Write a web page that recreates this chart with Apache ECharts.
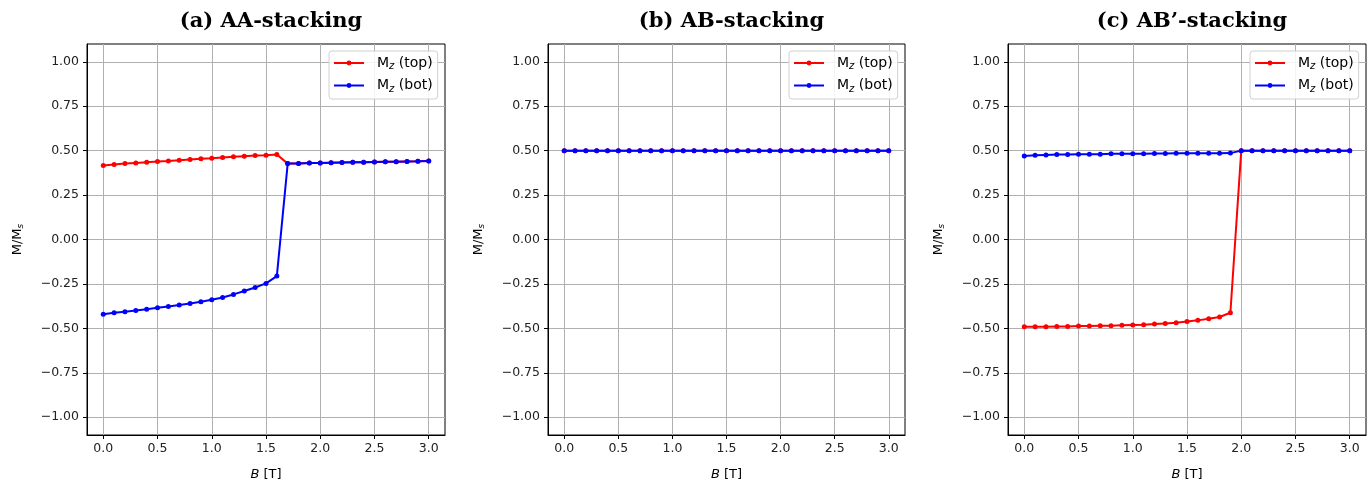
<!DOCTYPE html>
<html><head><meta charset="utf-8">
<script src="https://cdn.jsdelivr.net/npm/echarts@6/dist/echarts.min.js"></script>
<style>html,body{margin:0;padding:0;background:#fff}#c{width:1372px;height:483px}</style>
</head><body><div id="c"></div>
<script>
const B = [0.0,0.1,0.2,0.3,0.4,0.5,0.6,0.7,0.8,0.9,1.0,1.1,1.2,1.3,1.4,1.5,1.6,1.7,1.8,1.9,2.0,2.1,2.2,2.3,2.4,2.5,2.6,2.7,2.8,2.9,3.0];
const titles = ['(a) AA-stacking', '(b) AB-stacking', '(c) AB\u2019-stacking'];
const xTicks = [0.0,0.5,1.0,1.5,2.0,2.5,3.0];
const yTicks = [-1.00,-0.75,-0.50,-0.25,0.00,0.25,0.50,0.75,1.00];

const aTop = [0.416,0.422,0.427,0.431,0.435,0.439,0.442,0.446,0.450,0.454,0.457,0.461,0.465,0.469,0.472,0.474,0.478,
              0.427,0.428,0.430,0.431,0.432,0.433,0.434,0.435,0.436,0.437,0.438,0.439,0.440,0.442];
const aBot = [-0.420,-0.412,-0.407,-0.400,-0.392,-0.384,-0.377,-0.369,-0.360,-0.350,-0.339,-0.326,-0.309,-0.290,-0.270,-0.247,-0.206,
              0.427,0.428,0.430,0.431,0.432,0.433,0.434,0.435,0.436,0.437,0.438,0.439,0.440,0.442];
const bTop = [0.5,0.5,0.5,0.5,0.5,0.5,0.5,0.5,0.5,0.5,0.5,0.5,0.5,0.5,0.5,0.5,0.5,0.5,0.5,0.5,0.5,0.5,0.5,0.5,0.5,0.5,0.5,0.5,0.5,0.5,0.5];
const bBot = [0.5,0.5,0.5,0.5,0.5,0.5,0.5,0.5,0.5,0.5,0.5,0.5,0.5,0.5,0.5,0.5,0.5,0.5,0.5,0.5,0.5,0.5,0.5,0.5,0.5,0.5,0.5,0.5,0.5,0.5,0.5];
const cTop = [-0.491,-0.491,-0.491,-0.489,-0.489,-0.487,-0.487,-0.485,-0.485,-0.483,-0.481,-0.479,-0.476,-0.472,-0.468,-0.462,-0.455,-0.446,-0.436,-0.412,
              0.5,0.5,0.5,0.5,0.5,0.5,0.5,0.5,0.5,0.5,0.5];
const cBot = [0.470,0.474,0.476,0.478,0.478,0.479,0.480,0.480,0.482,0.482,0.482,0.483,0.484,0.484,0.485,0.485,0.485,0.485,0.485,0.486,
              0.5,0.5,0.5,0.5,0.5,0.5,0.5,0.5,0.5,0.5,0.5];

const panels = [[aTop,aBot],[bTop,bBot],[cTop,cBot]];
const grids = [{left:87,top:44,width:358,height:391},{left:548,top:44,width:357,height:391},{left:1008,top:44,width:358,height:391}];
const font = 'DejaVu Sans';
const fmtY = v => v.toFixed(2).replace('-', '\u2212');
const fmtX = v => v.toFixed(1).replace('-', '\u2212');

const option = {
  animation:false,
  backgroundColor:'#fff',
  title: titles.map((t,i)=>({text:t, left: grids[i].left + grids[i].width/2, top: 6, textAlign:'center',
    textStyle:{fontFamily:'DejaVu Serif', fontWeight:'bold', fontSize:21, color:'#000'}})),
  grid: grids.map(g=>Object.assign({show:true, borderColor:'#000', borderWidth:1, backgroundColor:'transparent', containLabel:false, outerBoundsMode:'none'}, g)),
  xAxis: grids.map((g,i)=>({type:'value', gridIndex:i, min:-0.15, max:3.15,
    name:'{i|B} [T]', nameLocation:'middle', nameGap:33,
    nameTextStyle:{fontFamily:font, fontSize:13, color:'#000', rich:{i:{fontFamily:font, fontSize:13, fontStyle:'italic', color:'#000'}}},
    axisLine:{show:true, onZero:false, lineStyle:{color:'#000', width:1}},
    axisTick:{show:true, length:4, inside:false, customValues:xTicks, lineStyle:{color:'#000'}},
    axisLabel:{customValues:xTicks, formatter:fmtX, fontFamily:font, fontSize:12.5, color:'#222', margin:7, showMinLabel:true, showMaxLabel:true},
    splitLine:{show:true, lineStyle:{color:'#b0b0b0', width:1}}
  })),
  yAxis: grids.map((g,i)=>({type:'value', gridIndex:i, min:-1.1, max:1.1,
    name:'M/M{s|s}', nameLocation:'middle', nameGap:62, nameRotate:90,
    nameTextStyle:{fontFamily:font, fontSize:13, color:'#000', rich:{s:{fontFamily:font, fontSize:9, fontStyle:'italic', color:'#000', verticalAlign:'bottom', padding:[6,0,0,0]}}},
    axisLine:{show:true, onZero:false, lineStyle:{color:'#000', width:1}},
    axisTick:{show:true, length:4, inside:false, customValues:yTicks, lineStyle:{color:'#000'}},
    axisLabel:{customValues:yTicks, formatter:fmtY, fontFamily:font, fontSize:12.5, color:'#222', margin:8},
    splitLine:{show:true, lineStyle:{color:'#b0b0b0', width:1}}
  })),
  legend: grids.map((g,i)=>({
    orient:'vertical', left: g.left + g.width - 116, top: 51, itemWidth:30, itemHeight:6, itemGap:7,
    padding:[5,5,5,4], backgroundColor:'rgba(255,255,255,0.85)', borderColor:'#d0d0d0', borderWidth:1, borderRadius:3,
    data:['top'+i,'bot'+i],
    formatter: n => n.startsWith('top') ? 'M{z|z} (top)' : 'M{z|z} (bot)',
    textStyle:{fontFamily:font, fontSize:14, color:'#000', padding:[0,0,0,8],
      rich:{z:{fontFamily:font, fontSize:10, fontStyle:'italic', color:'#000', verticalAlign:'bottom', padding:[7,0,0,0]}}}
  })),
  series: []
};
panels.forEach((p,i)=>{
  const cols = ['#ff0000','#0000ff'];
  const nm = ['top'+i,'bot'+i];
  p.forEach((arr,k)=>{
    option.series.push({type:'line', name:nm[k], xAxisIndex:i, yAxisIndex:i,
      data: B.map((b,j)=>[b, arr[j]]),
      symbol:'circle', symbolSize:5, showSymbol:true,
      lineStyle:{color:cols[k], width:2}, itemStyle:{color:cols[k]}, z:2+k});
  });
});
const chart = echarts.init(document.getElementById('c'), null, {renderer:'canvas'});
chart.setOption(option);
</script></body></html>
